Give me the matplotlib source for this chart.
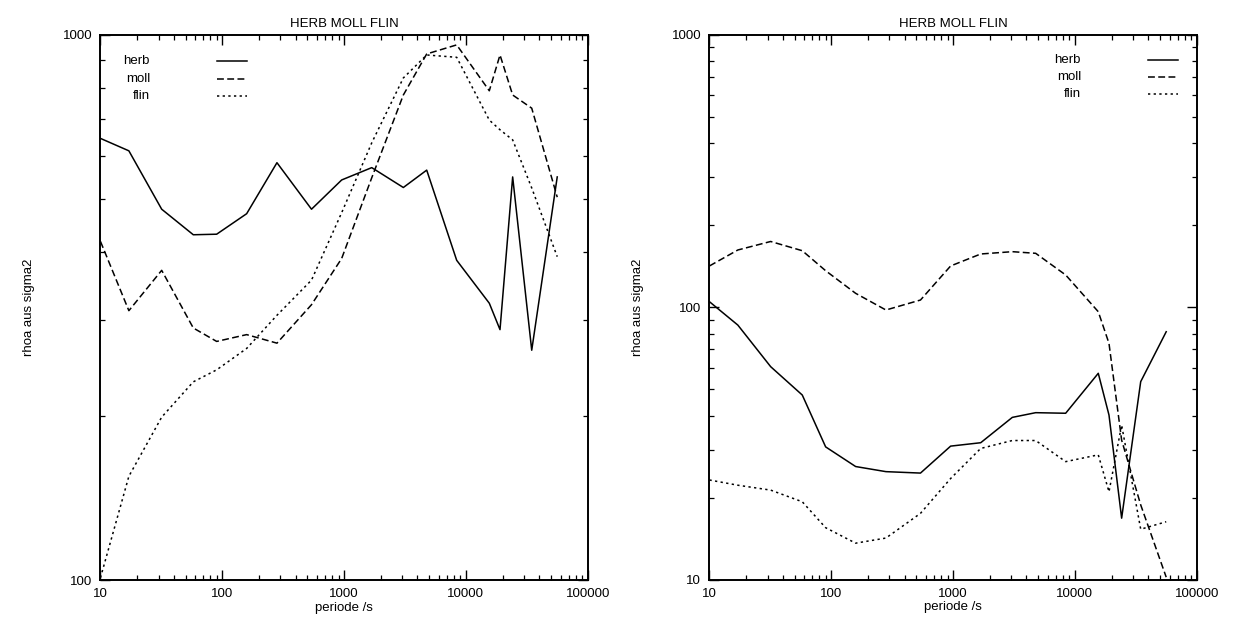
import matplotlib
matplotlib.use("Agg")
import matplotlib.pyplot as plt
from matplotlib.ticker import LogLocator, NullFormatter, FixedLocator, FixedFormatter

plt.rcParams['font.family'] = ['Liberation Sans', 'DejaVu Sans']

# periods (s), shared by all curves
periode = [10, 17.1, 31.8, 57.8, 89.9, 158.5, 281, 540, 955, 1686, 3064,
           4766, 8400, 15560, 19050, 24200, 34700, 56200]

# left panel
herb_l = [646, 613, 479, 430, 431, 470, 583, 479, 542, 571, 525, 565,
          386, 322, 288, 549, 264, 549]
moll_l = [418, 312, 370, 290, 274, 282, 272, 320, 389, 547, 776, 923,
          959, 790, 919, 776, 734, 504]
flin_l = [101, 155, 199, 231, 243, 266, 306, 355, 472, 634, 834, 919,
          910, 698, 670, 642, 524, 392]

# right panel
herb_r = [104.8, 86.0, 60.5, 47.6, 30.7, 26.0, 24.9, 24.6, 30.9, 31.8,
          39.4, 41.0, 40.8, 57.2, 40.2, 16.8, 53.3, 81.3]
moll_r = [141.8, 162.3, 174.4, 161.3, 136.2, 112.5, 97.7, 106.3, 141.8,
          156.9, 160.0, 157.8, 131.4, 96.3, 73.7, 32.5, 18.8, 10.2]
flin_r = [23.2, 22.2, 21.3, 19.3, 15.5, 13.6, 14.2, 17.5, 23.5, 30.3,
          32.4, 32.4, 27.1, 28.7, 21.0, 36.9, 15.3, 16.3]

names = ["herb", "moll", "flin"]
title = "HERB MOLL FLIN"
xlabel = "periode /s"
ylabel = "rhoa aus sigma2"
xticks = [10, 100, 1000, 10000, 100000]
xticklabels = ["10", "100", "1000", "10000", "100000"]

styles = [dict(ls='-'), dict(ls=(0, (4.5, 2.2))), dict(ls=(0, (1.5, 2.2)))]

fig = plt.figure(figsize=(12.36, 6.28), dpi=100)
axL = fig.add_axes([0.0813, 0.0764, 0.3942, 0.8679])
axR = fig.add_axes([0.5740, 0.0772, 0.3942, 0.8671])


def setup(ax, ylim, yticks):
    ax.set_xscale('log')
    ax.set_yscale('log')
    ax.set_xlim(10, 100000)
    ax.set_ylim(*ylim)
    ax.xaxis.set_major_locator(FixedLocator(xticks))
    ax.xaxis.set_major_formatter(FixedFormatter(xticklabels))
    ax.xaxis.set_minor_locator(LogLocator(base=10, subs=range(2, 10)))
    ax.xaxis.set_minor_formatter(NullFormatter())
    ax.yaxis.set_major_locator(FixedLocator(yticks))
    ax.yaxis.set_major_formatter(FixedFormatter([str(v) for v in yticks]))
    ax.yaxis.set_minor_locator(LogLocator(base=10, subs=range(2, 10)))
    ax.yaxis.set_minor_formatter(NullFormatter())
    ax.tick_params(which='both', direction='in', top=True, right=True,
                   labelsize=9.5, color='black')
    ax.tick_params(which='major', length=7, width=1.0, pad=6)
    ax.tick_params(which='minor', length=3.5, width=0.9)
    for s in ax.spines.values():
        s.set_linewidth(1.4)
    ax.set_title(title, fontsize=9.5, pad=6)
    ax.set_xlabel(xlabel, fontsize=9.5, labelpad=1)
    ax.set_ylabel(ylabel, fontsize=9.5, labelpad=20)


setup(axL, (100, 1000), [100, 1000])
setup(axR, (10, 1000), [10, 100, 1000])

for ax, series in ((axL, [herb_l, moll_l, flin_l]), (axR, [herb_r, moll_r, flin_r])):
    for vals, st, nm in zip(series, styles, names):
        ax.plot(periode, vals, color='black', lw=1.1, label=nm, **st)

# legends drawn as text + line segments (gnuplot style)
def key(ax, x_text, x0, x1, ys):
    for nm, st, y in zip(names, styles, ys):
        ax.text(x_text, y, nm, transform=ax.transAxes, ha='right', va='center',
                fontsize=9.5)
        ax.plot([x0, x1], [y, y], transform=ax.transAxes, color='black',
                lw=1.1, **st)

key(axL, (150 - 100.5) / 487.2, (217 - 100.5) / 487.2, (247 - 100.5) / 487.2,
    [1 - (61 - 35) / 545, 1 - (79 - 35) / 545, 1 - (96 - 35) / 545])
key(axR, (1081 - 709.5) / 487.2, (1148 - 709.5) / 487.2, (1178 - 709.5) / 487.2,
    [1 - (60 - 35) / 544.5, 1 - (77 - 35) / 544.5, 1 - (94 - 35) / 544.5])

fig.savefig("out.png", dpi=100)
